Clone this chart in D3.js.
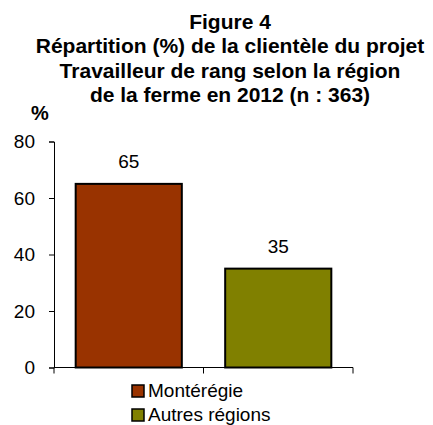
<!DOCTYPE html>
<html>
<head>
<meta charset="utf-8">
<script src="https://cdn.jsdelivr.net/npm/d3@7"></script>
<style>
  body { margin: 0; background: #fff; }
  svg { font-family: "Liberation Sans", Arial, sans-serif; }
</style>
</head>
<body>
<div id="chart"></div>
<script>
const regions = ["Montérégie", "Autres régions"];
const shares = [65, 35];
const barColors = ["#993300", "#808000"];
const yTicks = [0, 20, 40, 60, 80];
const titleLines = [
    "Figure 4",
    "Répartition (%) de la clientèle du projet",
    "Travailleur de rang selon la région",
    "de la ferme en 2012 (n : 363)"
];

const width = 433, height = 425;
const margin = {left: 54, right: 80, top: 141.5, bottom: 57.5};
const font = "'Liberation Sans', Arial, sans-serif";

const svg = d3.select("#chart")
    .append("svg")
    .attr("width", width)
    .attr("height", height);

// titre
svg.append("g")
    .selectAll("text")
    .data(titleLines)
    .enter()
    .append("text")
    .attr("x", 230)
    .attr("y", (d, i) => 28.5 + i * 24.5)
    .attr("text-anchor", "middle")
    .attr("font-weight", "bold")
    .attr("font-size", 21)
    .text(d => d);

svg.append("text")
    .attr("x", 31)
    .attr("y", 120)
    .attr("font-weight", "bold")
    .attr("font-size", 20)
    .text("%");

const x = d3.scaleBand()
    .domain(regions)
    .range([margin.left, width - margin.right])
    .paddingInner(0.29)
    .paddingOuter(0.145);

const y = d3.scaleLinear()
    .domain([0, 80])
    .range([height - margin.bottom, margin.top]);

// axe Y
const yAxis = svg.append("g")
    .attr("transform", `translate(${margin.left},0)`)
    .call(d3.axisLeft(y).tickValues(yTicks).tickSize(5).tickPadding(14));
yAxis.selectAll("text")
    .attr("font-size", 19)
    .attr("fill", "#000")
    .attr("font-family", font);
yAxis.selectAll("line, path").attr("stroke", "#000");

// axe X : graduations aux limites des catégories
const xEdges = [margin.left, margin.left + (width - margin.right - margin.left) / 2, width - margin.right];
const xAxis = svg.append("g")
    .attr("transform", `translate(0,${y(0)})`);
xAxis.append("line")
    .attr("x1", margin.left)
    .attr("x2", width - margin.right)
    .attr("stroke", "#000");
xAxis.selectAll(".tick")
    .data(xEdges)
    .enter()
    .append("line")
    .attr("x1", d => d)
    .attr("x2", d => d)
    .attr("y1", 0)
    .attr("y2", 6)
    .attr("stroke", "#000");

// barres
svg.selectAll("rect.bar")
    .data(shares)
    .enter()
    .append("rect")
    .attr("class", "bar")
    .attr("x", (d, i) => x(regions[i]))
    .attr("y", d => y(d))
    .attr("width", x.bandwidth())
    .attr("height", d => y(0) - y(d))
    .attr("fill", (d, i) => barColors[i])
    .attr("stroke", "#000")
    .attr("stroke-width", 2);

svg.selectAll("text.value")
    .data(shares)
    .enter()
    .append("text")
    .attr("class", "value")
    .attr("x", (d, i) => x(regions[i]) + x.bandwidth() / 2)
    .attr("y", d => y(d) - 15.5)
    .attr("text-anchor", "middle")
    .attr("font-size", 19)
    .text(d => d);

// légende
const legend = svg.append("g")
    .selectAll("g")
    .data(regions)
    .enter()
    .append("g")
    .attr("transform", (d, i) => `translate(132,${385 + i * 24})`);

legend.append("rect")
    .attr("width", 12)
    .attr("height", 12)
    .attr("fill", (d, i) => barColors[i])
    .attr("stroke", "#000")
    .attr("stroke-width", 1.5);

legend.append("text")
    .attr("x", 16)
    .attr("y", 12)
    .attr("font-size", 19)
    .text(d => d);
</script>
</body>
</html>
